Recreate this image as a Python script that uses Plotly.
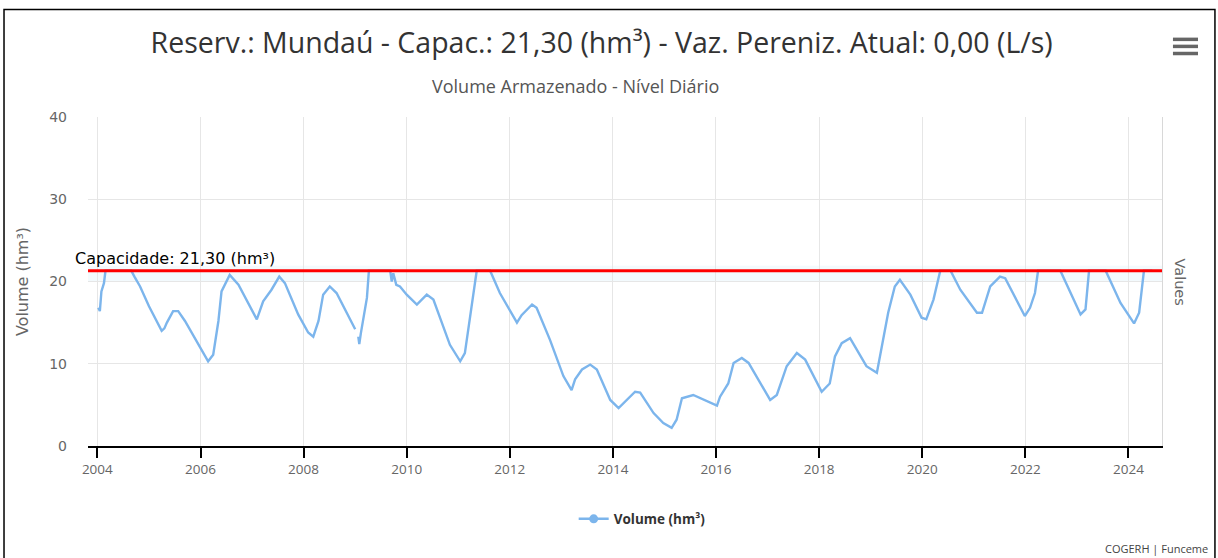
"""Reservoir stored volume chart (Mundaú) recreated with Plotly."""

import plotly.graph_objects as go

# daily storage (None marks the short data gap in early 2009)
dates = [
    "2004-01-08", "2004-01-19", "2004-01-30", "2004-02-17", "2004-02-28", "2004-08-29",
    "2004-09-20", "2004-10-30", "2005-01-01", "2005-04-01", "2005-04-20", "2005-05-08",
    "2005-06-21", "2005-07-27", "2005-09-13", "2005-12-16", "2006-02-24", "2006-04-01",
    "2006-05-08", "2006-05-30", "2006-07-27", "2006-09-27", "2007-02-04", "2007-03-21",
    "2007-05-19", "2007-07-13", "2007-08-22", "2007-11-24", "2008-02-03", "2008-03-10",
    "2008-04-16", "2008-05-19", "2008-07-05", "2008-08-22", "2009-01-01", "2009-01-10",
    "2009-01-23", "2009-01-30", "2009-02-10", "2009-03-25", "2009-04-08", "2009-09-06",
    "2009-09-17", "2009-09-28", "2009-10-19", "2009-11-14", "2010-01-01", "2010-01-23",
    "2010-03-14", "2010-05-23", "2010-07-09", "2010-11-03", "2011-01-15", "2011-02-17",
    "2011-03-25", "2011-05-12", "2011-08-15", "2011-10-23", "2012-02-21", "2012-03-25",
    "2012-06-07", "2012-07-09", "2012-10-12", "2013-01-15", "2013-03-14", "2013-04-08",
    "2013-05-27", "2013-07-24", "2013-09-09", "2013-12-13", "2014-02-10", "2014-04-08",
    "2014-06-07", "2014-07-13", "2014-10-16", "2014-12-24", "2015-02-21", "2015-03-28",
    "2015-05-05", "2015-07-24", "2016-01-08", "2016-01-30", "2016-03-28", "2016-05-05",
    "2016-07-02", "2016-08-19", "2017-01-19", "2017-03-07", "2017-05-16", "2017-07-27",
    "2017-09-24", "2018-01-19", "2018-03-17", "2018-04-23", "2018-06-10", "2018-08-08",
    "2018-12-02", "2019-02-14", "2019-03-21", "2019-05-05", "2019-06-21", "2019-07-27",
    "2019-10-09", "2019-12-28", "2020-01-30", "2020-03-21", "2020-05-08", "2020-07-20",
    "2020-09-27", "2021-01-23", "2021-02-28", "2021-04-27", "2021-07-05", "2021-08-11",
    "2021-12-28", "2022-02-03", "2022-03-10", "2022-04-01", "2022-09-06", "2022-10-23",
    "2023-01-27", "2023-03-03", "2023-03-28", "2023-07-24", "2023-11-06", "2024-02-10",
    "2024-03-17", "2024-04-20", "2024-06-18",
]
volume = [
    16.8, 16.4, 18.8, 19.8, 21.3, 21.3,
    20.6, 19.4, 17.0, 14.0, 14.3, 15.0,
    16.4, 16.4, 15.2, 12.3, 10.3, 11.1,
    15.2, 18.8, 20.8, 19.6, 15.4, 17.6,
    19.0, 20.6, 19.8, 16.0, 13.8, 13.3,
    15.2, 18.4, 19.4, 18.6, 14.2, None,
    13.3, 12.4, 13.7, 18.0, 21.3, 21.3,
    20.0, 21.0, 19.6, 19.4, 18.4, 18.0,
    17.2, 18.4, 17.8, 12.3, 10.3, 11.3,
    15.8, 21.3, 21.3, 18.6, 15.0, 15.9,
    17.2, 16.8, 12.9, 8.5, 6.8, 8.1,
    9.3, 9.9, 9.3, 5.6, 4.6, 5.6,
    6.6, 6.5, 4.0, 2.8, 2.2, 3.2,
    5.8, 6.2, 4.9, 6.0, 7.6, 10.1,
    10.7, 10.1, 5.6, 6.2, 9.7, 11.3,
    10.5, 6.6, 7.6, 10.9, 12.5, 13.1,
    9.7, 8.9, 12.1, 16.2, 19.4, 20.2,
    18.4, 15.6, 15.4, 17.8, 21.3, 21.3,
    19.0, 16.2, 16.2, 19.4, 20.6, 20.4,
    15.8, 16.8, 18.6, 21.3, 21.3, 19.6,
    16.0, 16.6, 21.3, 21.3, 17.4, 14.9,
    16.2, 21.3, 21.3,
]

capacity = 21.30
x_range = ["2003-10-27", "2024-08-26"]
y_ticks = [0, 10, 20, 30, 40]

NARROW = "Open Sans, sans-serif"
WIDE = "DejaVu Sans, Verdana, sans-serif"
GRID = "#e6e6e6"
BLUE = "#7cb5ec"

fig = go.Figure()
fig.add_trace(go.Scatter(
    x=dates, y=volume, mode="lines", name="Volume (hm³)", showlegend=False,
    line=dict(color=BLUE, width=2.4), connectgaps=False,
))
# legend entry only (line with a round marker, as in the original)
fig.add_trace(go.Scatter(
    x=[None], y=[None], mode="lines+markers", name="Volume (hm³)",
    line=dict(color=BLUE, width=2.4), marker=dict(size=9, color=BLUE),
))
# invisible trace just to hold the right-hand "Values" axis
fig.add_trace(go.Scatter(x=[], y=[], yaxis="y2", showlegend=False))

# faint band around the capacity line and the capacity line itself
fig.add_hrect(y0=20, y1=21.9, fillcolor="rgba(200,232,245,0.22)", line_width=0, layer="below")
fig.add_hline(y=capacity, line=dict(color="#ff0000", width=3))

fig.add_annotation(
    text="Capacidade: 21,30 (hm³)", xref="paper", yref="y", x=-0.014, y=capacity,
    xanchor="left", yanchor="bottom", yshift=1, showarrow=False,
    font=dict(family=WIDE, size=16, color="#000000"),
)
fig.add_annotation(
    text="Volume Armazenado - Nível Diário", xref="paper", yref="paper", x=0.454, y=1.093,
    xanchor="center", yanchor="middle", showarrow=False,
    font=dict(family=NARROW, size=18, color="#555555"),
)
fig.add_annotation(
    text="Values", xref="paper", yref="paper", x=1.0168, y=0.5, textangle=90,
    xanchor="center", yanchor="middle", showarrow=False,
    font=dict(family=WIDE, size=14.5, color="#666666"),
)
fig.add_annotation(
    text="COGERH | Funceme", xref="paper", yref="paper", x=1.0447, y=-0.3105,
    xanchor="right", yanchor="middle", showarrow=False,
    font=dict(family=NARROW, size=11, color="#444444"),
)

# hamburger menu icon and outer frame
for yy in (1.236, 1.2146, 1.193):
    fig.add_shape(type="line", xref="paper", yref="paper", x0=1.0102, x1=1.0335, y0=yy, y1=yy,
                  line=dict(color="#666666", width=3.5))
fig.add_shape(type="rect", xref="paper", yref="paper", x0=-0.0782, x1=1.0493, y0=-0.4, y1=1.327,
              line=dict(color="#000000", width=1.5))

fig.update_layout(
    width=1218, height=558,
    margin=dict(l=88, r=56, t=117, b=112),
    paper_bgcolor="#ffffff", plot_bgcolor="#ffffff",
    font=dict(family=NARROW, size=13, color="#666666"),
    title=dict(
        text="Reserv.: Mundaú - Capac.: 21,30 (hm³) - Vaz. Pereniz. Atual: 0,00 (L/s)",
        x=0.494, xanchor="center", y=0.923, yanchor="middle",
        font=dict(family=NARROW, size=28.5, color="#333333"),
    ),
    showlegend=True,
    legend=dict(
        orientation="h", x=0.516, xanchor="center", y=-0.222, yanchor="middle",
        font=dict(family=NARROW, size=13.5, color="#333333", weight="bold"),
        itemwidth=30,
    ),
    xaxis=dict(
        type="date", range=x_range, tick0="2004-01-01", dtick="M24", tickformat="%Y",
        showgrid=True, gridcolor=GRID, gridwidth=1,
        showline=True, linecolor="#000000", linewidth=1.5,
        ticks="outside", ticklen=10, tickcolor="#000000", tickwidth=1.5,
        tickfont=dict(family=NARROW, size=13.5, color="#666666"), zeroline=False,
    ),
    yaxis=dict(
        range=[0, 40], tickvals=y_ticks, showgrid=True, gridcolor=GRID, gridwidth=1,
        zeroline=False, showline=False, ticks="", ticklabelstandoff=20,
        tickfont=dict(family=WIDE, size=14, color="#666666"),
        title=dict(text="Volume (hm³)", standoff=16,
                   font=dict(family=WIDE, size=16, color="#666666")),
    ),
    yaxis2=dict(
        overlaying="y", side="right", range=[0, 40], showgrid=False, zeroline=False,
        showticklabels=False, ticks="", showline=True, linecolor="#d8d8d8", linewidth=1,
    ),
)

fig.write_html("out.html", config={"displayModeBar": False},
               post_script="document.body.style.margin='0';")
